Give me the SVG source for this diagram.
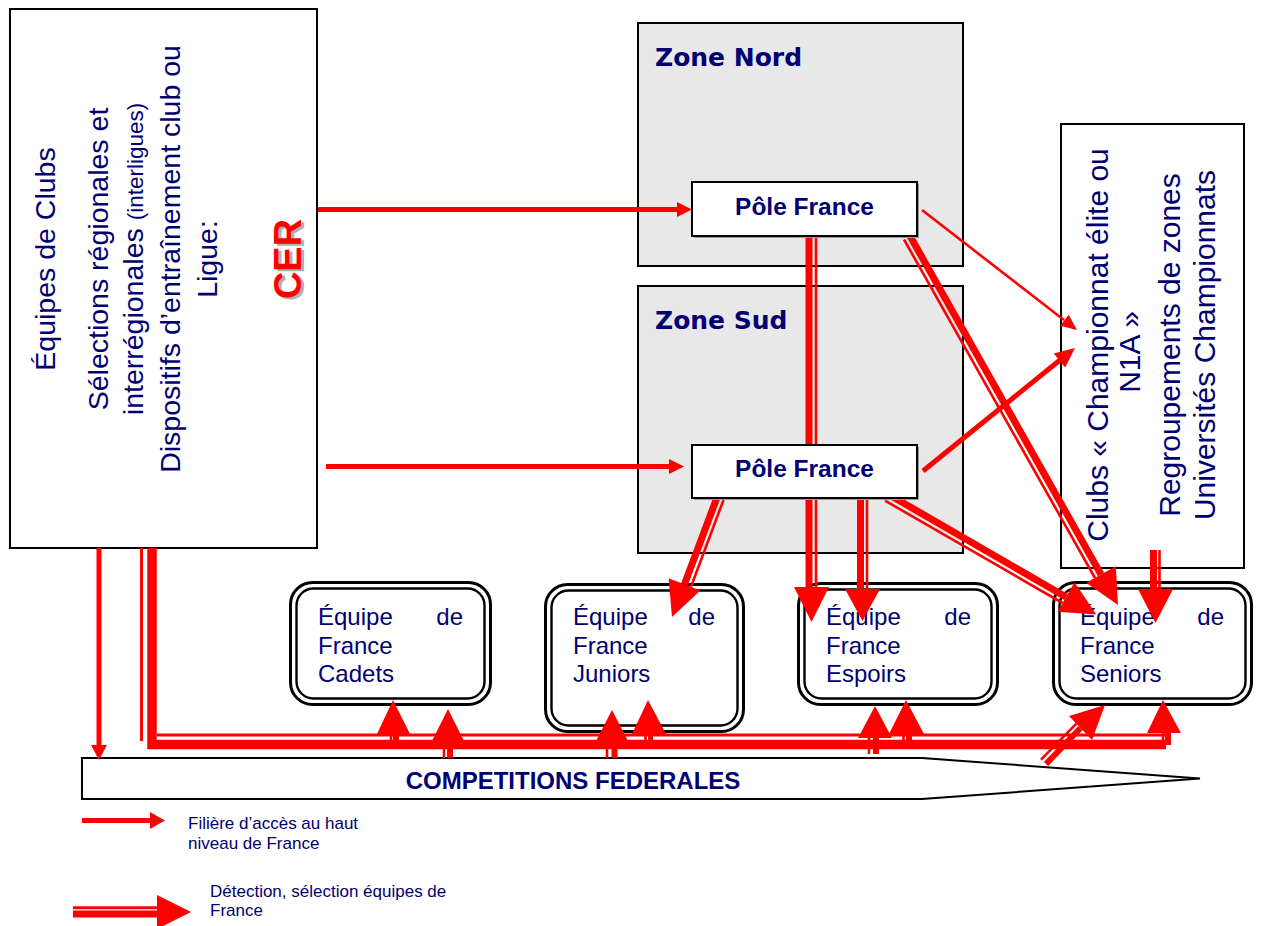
<svg xmlns="http://www.w3.org/2000/svg" width="1261" height="926" viewBox="0 0 1261 926">
<style>
text{font-family:"Liberation Sans",Arial,sans-serif;fill:#000072}
.box{fill:#fff;stroke:#000;stroke-width:2}
.zone{fill:#e8e8e8;stroke:#000;stroke-width:2}
.zt{font-family:"DejaVu Sans",sans-serif;font-weight:bold;font-size:25px}
.pt{font-weight:bold;font-size:24.5px}
.lb{font-size:28.5px}
.rb{font-size:30px}
.tt{font-size:24px}
.o{fill:none;stroke:#000;stroke-width:3}
.i{fill:none;stroke:#000;stroke-width:2.4}
.r{stroke:#f00;fill:none}
.s1{stroke-width:5}
.tn{stroke-width:2.6}
.tk{stroke-width:7}
.hd{fill:#f00}
.lg{font-size:17px}
</style>

<g id="source">
<rect class="box" x="10" y="9" width="307" height="539"/>
<text class="lb" text-anchor="middle" transform="translate(55,259) rotate(-90)">Équipes de Clubs</text>
<text class="lb" text-anchor="middle" transform="translate(108,259) rotate(-90)">Sélections régionales et</text>
<text class="lb" text-anchor="middle" transform="translate(143,259) rotate(-90)">interrégionales <tspan font-size="22.5">(interligues)</tspan></text>
<text class="lb" text-anchor="middle" transform="translate(180,259) rotate(-90)">Dispositifs d’entraînement club ou</text>
<text class="lb" text-anchor="middle" transform="translate(217,259) rotate(-90)">Ligue:</text>
<text text-anchor="middle" font-weight="bold" font-size="38" style="fill:#b0b0b0" transform="translate(303.5,261) rotate(-90)">CER</text>
<text text-anchor="middle" font-weight="bold" font-size="38" style="fill:#f00" transform="translate(301,259) rotate(-90)">CER</text>
</g>

<g id="zone-nord">
<rect class="zone" x="638" y="23" width="325" height="243"/>
<text class="zt" x="655" y="66">Zone Nord</text>
</g>

<g id="zone-sud">
<rect class="zone" x="638" y="286" width="325" height="267"/>
<text class="zt" x="655" y="329">Zone Sud</text>
</g>

<g id="clubs">
<rect class="box" x="1061" y="124" width="183" height="444"/>
<text class="rb" text-anchor="middle" transform="translate(1108,345) rotate(-90)">Clubs « Championnat élite ou</text>
<text class="rb" text-anchor="middle" transform="translate(1140,352) rotate(-90)">N1A »</text>
<text class="rb" text-anchor="middle" transform="translate(1180,345) rotate(-90)">Regroupements de zones</text>
<text class="rb" text-anchor="middle" transform="translate(1215,345) rotate(-90)">Universités Championnats</text>
</g>

<g id="cadets">
<rect class="o" x="290.5" y="582.5" width="200" height="122" rx="22"/>
<rect class="i" x="296.5" y="588.5" width="188" height="110" rx="17"/>
<text class="tt"><tspan x="318" y="625">Équipe</tspan><tspan x="463" y="625" text-anchor="end">de</tspan><tspan x="318" y="653.5">France</tspan><tspan x="318" y="682">Cadets</tspan></text>
</g>

<g id="juniors">
<rect class="o" x="545.5" y="584.5" width="198" height="147" rx="22"/>
<rect class="i" x="551.5" y="590.5" width="186" height="135" rx="17"/>
<text class="tt"><tspan x="573" y="625">Équipe</tspan><tspan x="715" y="625" text-anchor="end">de</tspan><tspan x="573" y="653.5">France</tspan><tspan x="573" y="682">Juniors</tspan></text>
</g>

<g id="espoirs">
<rect class="o" x="798.5" y="583.5" width="199" height="121" rx="22"/>
<rect class="i" x="804.5" y="589.5" width="187" height="109" rx="17"/>
<text class="tt"><tspan x="826" y="625">Équipe</tspan><tspan x="971" y="625" text-anchor="end">de</tspan><tspan x="826" y="653.5">France</tspan><tspan x="826" y="682">Espoirs</tspan></text>
</g>

<g id="seniors">
<rect class="o" x="1053.5" y="582.5" width="198" height="122" rx="22"/>
<rect class="i" x="1059.5" y="588.5" width="186" height="110" rx="17"/>
<text class="tt"><tspan x="1080" y="625">Équipe</tspan><tspan x="1224" y="625" text-anchor="end">de</tspan><tspan x="1080" y="653.5">France</tspan><tspan x="1080" y="682">Seniors</tspan></text>
</g>

<g id="competitions">
<polygon points="82,758 922,758 1200,778.5 922,799 82,799" fill="#fff" stroke="#000" stroke-width="2"/>
<text x="573" y="789" text-anchor="middle" font-weight="bold" font-size="24">COMPETITIONS FEDERALES</text>
</g>

<g id="connectors">
<path class="r s1" d="M318,209.5H678"/>
<polygon class="hd" points="677,202 692,209.5 677,217"/>
<path class="r s1" d="M326,466.5H670"/>
<polygon class="hd" points="669,459 684,466.5 669,474"/>
<path class="r s1" d="M99,548V746"/>
<polygon class="hd" points="91,745 107,745 99,760"/>
<path class="r tn" d="M922,210L1064,320"/>
<polygon class="hd" points="1077,330 1060.1,325.7 1068.7,314.7"/>
<path class="r s1" d="M923,471L1060,360"/>
<polygon class="hd" points="1075,348 1065.2,367.6 1053.8,353.6"/>

<path class="r tk" d="M809,236V590"/>
<path class="r tn" d="M816,236V590"/>
<polygon class="hd" points="794,587 829,587 811.5,622"/>
<path class="r tk" d="M860.5,497V590"/>
<path class="r tn" d="M867,497V590"/>
<polygon class="hd" points="845,589 880,589 862.5,621"/>
<path class="r tk" d="M1153.5,550V592"/>
<path class="r tn" d="M1159.5,550V592"/>
<polygon class="hd" points="1138,589 1173,589 1155.5,623"/>
<path class="r tk" d="M910,236L1101,574.5"/>
<path class="r tn" d="M904,239.5L1095,578"/>
<polygon class="hd" points="1118,605 1115.8,566.2 1086.2,582.8"/>
<path class="r tk" d="M893,497L1066,597"/>
<path class="r tn" d="M885,500.6L1062.5,603"/>
<polygon class="hd" points="1096.3,614.5 1057.5,611.7 1074.5,582.3"/>
<path class="r tk" d="M717,497.5L684.5,584.3"/>
<path class="r tn" d="M723.5,500L691,586.8"/>
<polygon class="hd" points="672,617 700.4,590.4 668.6,578.2"/>

<path class="r" stroke-width="9.5" d="M152,548V744.5H1166"/>
<path class="r" stroke-width="3" d="M141.5,548V741"/>
<path class="r" stroke-width="3" d="M157,735H1171"/>

<path class="r tn" d="M391,733V742"/><path class="r" stroke-width="6" d="M396,733V742"/>
<polygon class="hd" points="377,734 410,734 393,700"/>
<path class="r tn" d="M444,740V758"/><path class="r" stroke-width="6" d="M450,740V758"/>
<polygon class="hd" points="432,741 464,741 448,709"/>
<path class="r tn" d="M607,740V758"/><path class="r" stroke-width="6" d="M614.5,740V758"/>
<polygon class="hd" points="596,741 628,741 612,710"/>
<path class="r tn" d="M645.5,733V742"/><path class="r" stroke-width="5" d="M650.5,733V742"/>
<polygon class="hd" points="632,734 666,734 648,700"/>
<path class="r tn" d="M869,737V754"/><path class="r" stroke-width="6" d="M876,737V754"/>
<polygon class="hd" points="858,738 892,738 875,706"/>
<path class="r tn" d="M903.5,733V742"/><path class="r" stroke-width="6" d="M909,733V742"/>
<polygon class="hd" points="889,734 924,734 906,700"/>
<path class="r tn" d="M1163,732V745"/><path class="r" stroke-width="6" d="M1168,732V745"/>
<polygon class="hd" points="1147,733 1181,733 1163,700"/>
<path class="r" stroke-width="6" d="M1046,764L1080.5,728"/>
<path class="r tn" d="M1041,759.6L1076.4,723.6"/>
<polygon class="hd" points="1105,705 1069,716 1092,740"/>
</g>

<g id="pole-nord">
<rect x="694" y="184" width="225" height="54" fill="#999"/>
<rect class="box" x="692" y="182" width="225" height="54"/>
<text class="pt" x="804.5" y="215" text-anchor="middle">Pôle France</text>
</g>

<g id="pole-sud">
<rect x="694" y="447" width="225" height="53" fill="#999"/>
<rect class="box" x="692" y="445" width="225" height="53"/>
<text class="pt" x="804.5" y="477" text-anchor="middle">Pôle France</text>
</g>

<g id="legend">
<path class="r s1" d="M82,820.5H152"/>
<polygon class="hd" points="150,812 165,820.5 150,829"/>
<text class="lg"><tspan x="188" y="829">Filière d’accès au haut</tspan><tspan x="188" y="849">niveau de France</tspan></text>
<path class="r" stroke-width="3" d="M73,907.7H160"/>
<path class="r" stroke-width="7" d="M73,914H160"/>
<polygon class="hd" points="157,895 191,912 157,929"/>
<text class="lg"><tspan x="210" y="897">Détection, sélection équipes de</tspan><tspan x="210" y="916">France</tspan></text>
</g>
</svg>
